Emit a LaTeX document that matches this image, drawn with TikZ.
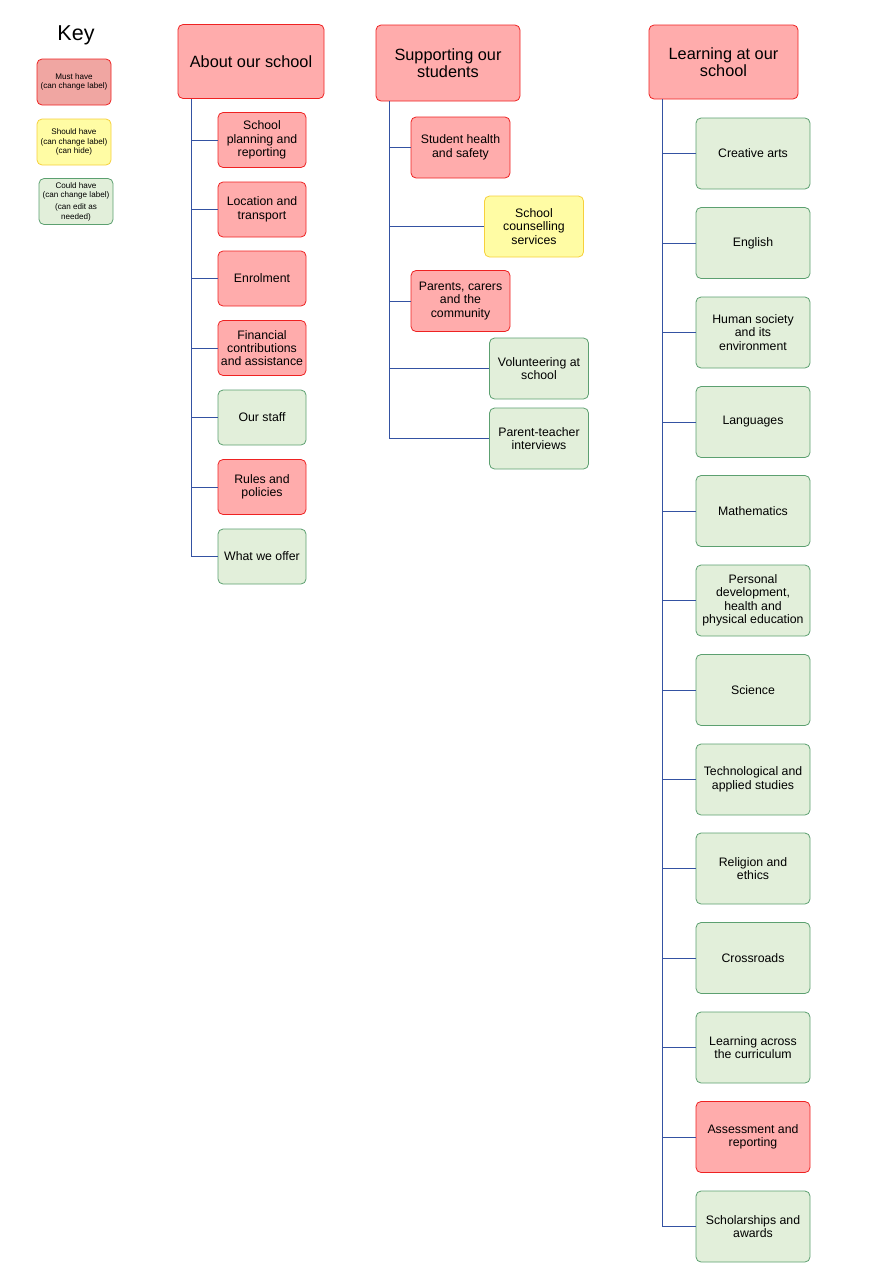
\documentclass[tikz,border=0pt]{standalone}
\usepackage{fontspec}
\setmainfont{Liberation Sans}
\usetikzlibrary{calc,positioning}
\definecolor{mustfill}{RGB}{255,172,172}
\definecolor{mustkey}{RGB}{240,166,162}
\definecolor{mustdraw}{RGB}{238,34,34}
\definecolor{shouldfill}{RGB}{255,252,164}
\definecolor{shoulddraw}{RGB}{246,208,60}
\definecolor{couldfill}{RGB}{226,239,218}
\definecolor{coulddraw}{RGB}{92,160,112}
\definecolor{linkblue}{RGB}{52,82,162}
\tikzset{
  pbox/.style   ={rectangle, rounded corners=5pt, line width=0.8pt, align=center,
                  inner sep=2pt, font=\fontsize{12.3}{13.4}\selectfont},
  must/.style   ={pbox, draw=mustdraw, fill=mustfill},
  should/.style ={pbox, draw=shoulddraw, fill=shouldfill},
  could/.style  ={pbox, draw=coulddraw, fill=couldfill},
  topic/.style  ={must, minimum width=146pt, minimum height=74pt,
                  font=\fontsize{16.3}{17.5}\selectfont},
  sub/.style    ={minimum width=88pt, minimum height=55pt},
  mid/.style    ={minimum width=99pt, minimum height=61pt},
  wide/.style   ={minimum width=114pt, minimum height=71pt},
  keybox/.style ={minimum width=74pt, minimum height=46pt, inner sep=1pt,
                  font=\fontsize{8.1}{9.6}\selectfont},
  link/.style   ={line width=0.9pt, linkblue},
}
\begin{document}
\begin{tikzpicture}[x=1pt, y=-1pt]
  \useasboundingbox (0,0) rectangle (870,1280);
  % key
  \node[font=\fontsize{21.5}{23}\selectfont] (keyhead) at (76,35) {Key};
  \node[pbox, draw=mustdraw, fill=mustkey, keybox] (keymust) at (74,82) {Must have\\(can change label)};
  \node[should, keybox] (keyshould) at (74,142) {Should have\\(can change label)\\(can hide)};
  \node[could, keybox] (keycould) at (76,201.5) {Could have\\(can change label)\\[2pt](can edit as\\needed)};

  % about our school
  \node[topic] (about) at (251,61.5) {About our school};
  \coordinate (abouttrunk) at ([xshift=14pt]about.south west);
  \node[must, sub]  (plan)   at (262,140) {School\\planning and\\reporting};
  \node[must, sub]  (travel) at (262,209.5) {Location and\\transport};
  \node[must, sub]  (enrol)  at (262,278.5) {Enrolment};
  \node[must, sub]  (money)  at (262,348) {Financial\\contributions\\and assistance};
  \node[could, sub] (staff)  at (262,417.5) {Our staff};
  \node[must, sub]  (rules)  at (262,487) {Rules and\\policies};
  \node[could, sub] (offer)  at (262,556.5) {What we offer};
  \draw[link] (abouttrunk) |- (offer.west);
  \foreach \n in {plan,travel,enrol,money,staff,rules}
    \draw[link] (\n.west) -- (\n.west -| abouttrunk);

  % supporting our students
  \node[topic, minimum width=144pt, minimum height=76pt] (support) at (448,63) {Supporting our\\students};
  \coordinate (supporttrunk) at ([xshift=14pt]support.south west);
  \node[must, mid]   (health)    at (460.5,147.5) {Student health\\and safety};
  \node[should, mid] (counsel)   at (534,226.5) {School\\counselling\\services};
  \node[must, mid]   (parents)   at (460.5,301) {Parents, carers\\and the\\community};
  \node[could, mid]  (volunteer) at (539,368.5) {Volunteering at\\school};
  \node[could, mid]  (interview) at (539,438.5) {Parent-teacher\\interviews};
  \draw[link] (supporttrunk) |- (interview.west);
  \foreach \n in {health,counsel,parents,volunteer}
    \draw[link] (\n.west) -- (\n.west -| supporttrunk);

  % learning at our school
  \node[topic, minimum width=149pt] (learn) at (723.5,62) {Learning at our\\school};
  \coordinate (learntrunk) at ([xshift=14pt]learn.south west);
  \node[could, wide] (arts)     at (753,153.5) {Creative arts};
  \node[could, wide] (english)  at (753,243) {English};
  \node[could, wide] (hsie)     at (753,332.5) {Human society\\and its\\environment};
  \node[could, wide] (lang)     at (753,422) {Languages};
  \node[could, wide] (maths)    at (753,511) {Mathematics};
  \node[could, wide] (pdhpe)    at (753,600.5) {Personal\\development,\\health and\\physical education};
  \node[could, wide] (science)  at (753,690) {Science};
  \node[could, wide] (tas)      at (753,779.5) {Technological and\\applied studies};
  \node[could, wide] (religion) at (753,868.5) {Religion and\\ethics};
  \node[could, wide] (cross)    at (753,958) {Crossroads};
  \node[could, wide] (across)   at (753,1047.5) {Learning across\\the curriculum};
  \node[must, wide]  (assess)   at (753,1137) {Assessment and\\reporting};
  \node[could, wide] (awards)   at (753,1226.5) {Scholarships and\\awards};
  \draw[link] (learntrunk) |- (awards.west);
  \foreach \n in {arts,english,hsie,lang,maths,pdhpe,science,tas,religion,cross,across,assess}
    \draw[link] (\n.west) -- (\n.west -| learntrunk);
\end{tikzpicture}
\end{document}
